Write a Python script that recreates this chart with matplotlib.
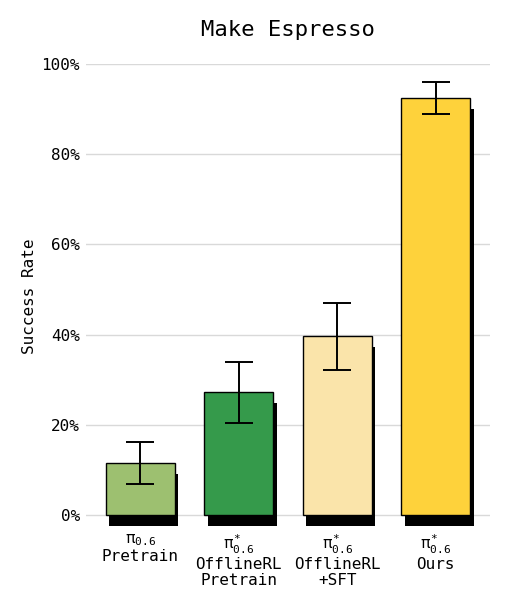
import matplotlib
matplotlib.use("Agg")
import matplotlib.pyplot as plt
from matplotlib.patches import Rectangle

plt.rcParams['font.family'] = ['DejaVu Sans Mono']
plt.rcParams['mathtext.fontset'] = 'custom'
plt.rcParams['mathtext.rm'] = 'DejaVu Sans Mono'
plt.rcParams['mathtext.it'] = 'DejaVu Sans Mono'
plt.rcParams['mathtext.bf'] = 'DejaVu Sans Mono'

title = "Make Espresso"
labels = [r"$\pi_{0.6}$" + "\nPretrain",
          r"$\pi^{*}_{0.6}$" + "\nOfflineRL\nPretrain",
          r"$\pi^{*}_{0.6}$" + "\nOfflineRL\n+SFT",
          r"$\pi^{*}_{0.6}$" + "\nOurs"]
values = [11.5, 27.2, 39.6, 92.5]
errors = [4.7, 6.8, 7.4, 3.6]
colors = ["#9dc070", "#359a4b", "#fae4aa", "#fed23b"]
yticks = [0, 20, 40, 60, 80, 100]

fig = plt.figure(figsize=(5.11, 6.07), dpi=100)
ax = fig.add_axes([0.1683, 0.1293, 0.7906, 0.7653])

x = list(range(len(values)))
width = 0.7
dx, dy = 0.035, 2.4
for xi, v in zip(x, values):
    ax.add_patch(Rectangle((xi - width / 2 + dx, -dy), width, v, facecolor="black",
                           edgecolor="none", zorder=2))
ax.bar(x, values, width=width, color=colors, edgecolor="black", linewidth=1.0, zorder=3)
ax.errorbar(x, values, yerr=errors, fmt="none", ecolor="black", elinewidth=1.4,
            capsize=10, capthick=1.4, zorder=4)

ax.set_xlim(-0.55, 3.55)
ax.set_ylim(-3, 100)
ax.set_yticks(yticks)
ax.set_yticklabels([f"{t}%" for t in yticks])
ax.set_xticks(x)
ax.set_xticklabels(labels, linespacing=1.07)
ax.tick_params(axis="both", length=0, labelsize=11.5)
ax.tick_params(axis="y", pad=4.5)
ax.tick_params(axis="x", pad=3)
ax.yaxis.grid(True, color="#d9d9d9", linewidth=1.0, zorder=0)
ax.set_axisbelow(True)
for s in ax.spines.values():
    s.set_visible(False)
ax.set_ylabel("Success Rate", fontsize=11.5, labelpad=3)
ax.set_title(title, fontsize=16, pad=20)

fig.savefig("out.png", dpi=100)
